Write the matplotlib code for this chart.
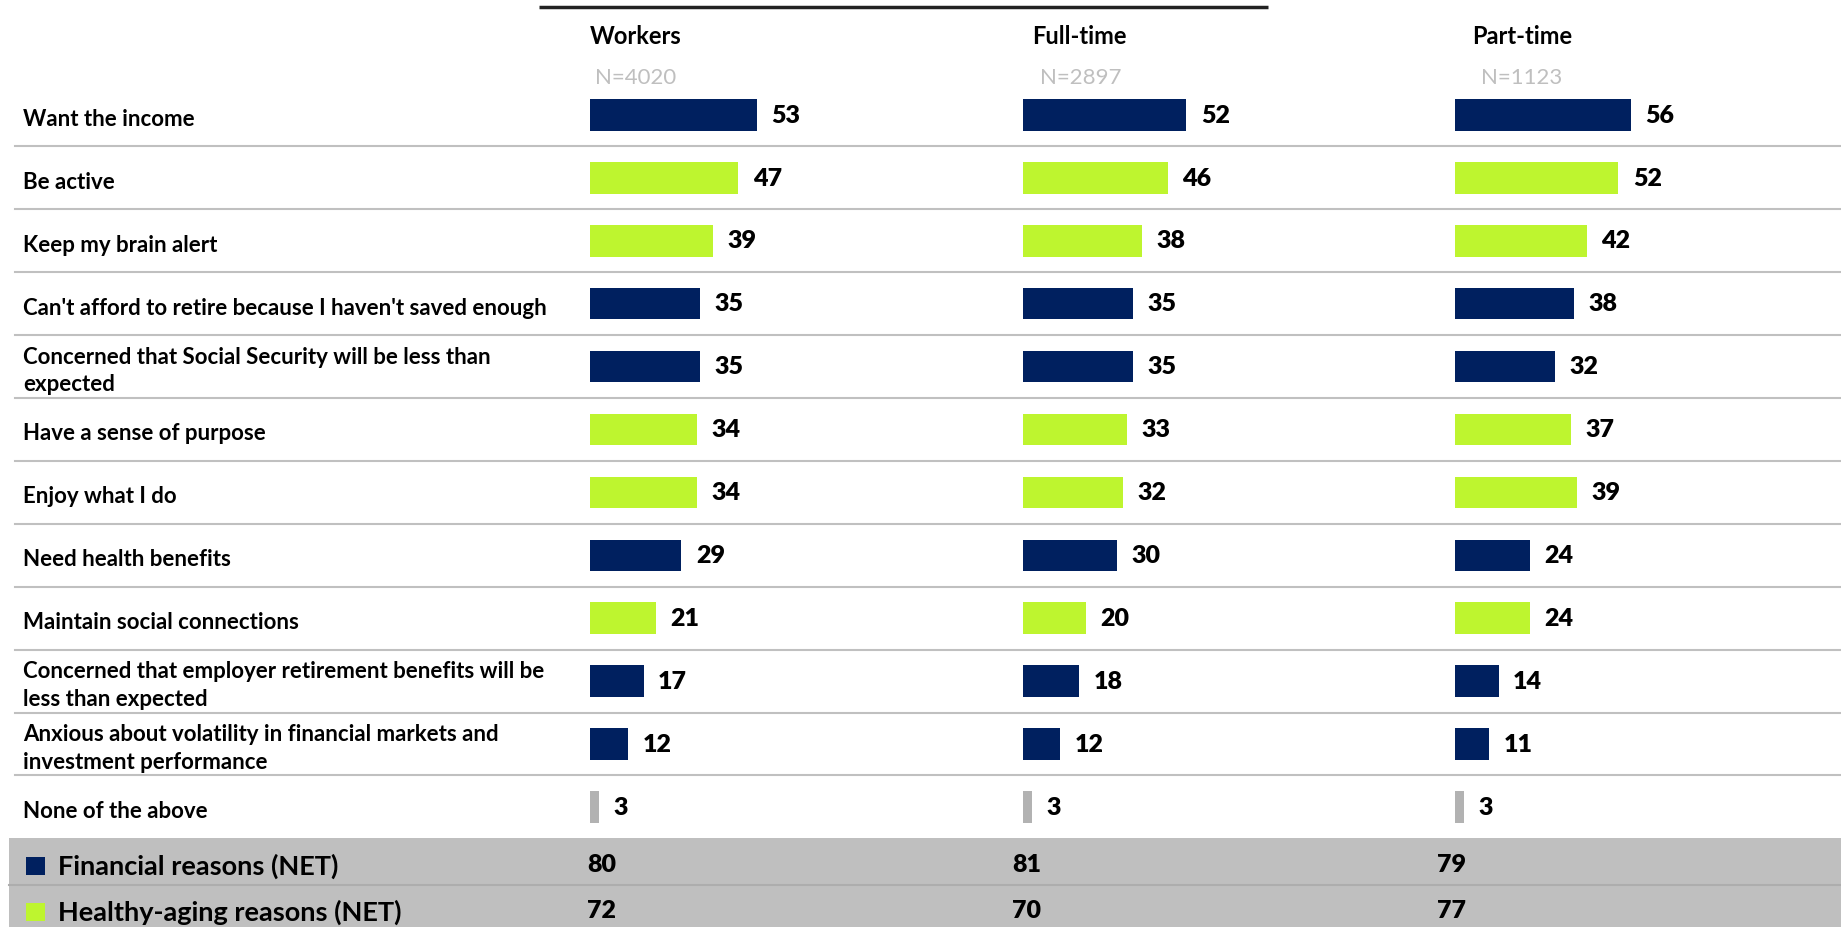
import matplotlib.pyplot as plt
from matplotlib.patches import Rectangle

plt.rcParams['font.family'] = ['Liberation Sans Narrow', 'Lato', 'DejaVu Sans']

# --- data ---
reasons = [
    "Want the income",
    "Be active",
    "Keep my brain alert",
    "Can't afford to retire because I haven't saved enough",
    "Concerned that Social Security will be less than\nexpected",
    "Have a sense of purpose",
    "Enjoy what I do",
    "Need health benefits",
    "Maintain social connections",
    "Concerned that employer retirement benefits will be\nless than expected",
    "Anxious about volatility in financial markets and\ninvestment performance",
    "None of the above",
]
kinds = ["fin", "health", "health", "fin", "fin", "health", "health",
         "fin", "health", "fin", "fin", "none"]
workers = [53, 47, 39, 35, 35, 34, 34, 29, 21, 17, 12, 3]
full_time = [52, 46, 38, 35, 35, 33, 32, 30, 20, 18, 12, 3]
part_time = [56, 52, 42, 38, 32, 37, 39, 24, 24, 14, 11, 3]

groups = ["Workers", "Full-time", "Part-time"]
group_n = ["N=4020", "N=2897", "N=1123"]

net_labels = ["Financial reasons (NET)", "Healthy-aging reasons (NET)"]
net_kinds = ["fin", "health"]
net_workers = [80, 72]
net_full_time = [81, 70]
net_part_time = [79, 77]

# --- style ---
NAVY = "#00205F"
LIME = "#BEF52F"
BAR_GREY = "#B2B2B2"
BAND = "#BFBFBF"
SEP = "#C0C0C0"
colors = {"fin": NAVY, "health": LIME, "none": BAR_GREY}

W, H = 1841, 927
ROW0, STEP = 115.0, 62.9          # pixel centre of first row, row pitch
PX_PER_UNIT = 3.15


def py(px):
    """pixel y (from top) -> row units"""
    return (px - ROW0) / STEP


y_top, y_bot = py(0), py(H)

fig = plt.figure(figsize=(W / 100, H / 100), dpi=100)

bg = fig.add_axes([0, 0, 1, 1])
bg.set_xlim(0, W)
bg.set_ylim(y_bot, y_top)
bg.axis('off')

# cut-off title underline
bg.plot([539, 1268], [py(7), py(7)], color="#222222", lw=2.5, solid_capstyle='butt')

n = len(reasons)
for i in range(n - 1):
    bg.plot([15, W], [i + 0.5, i + 0.5], color=SEP, lw=1.5)
for i, lab in enumerate(reasons):
    bg.text(23, i + 0.07, lab, fontsize=16, fontweight='bold', va='center',
            ha='left', linespacing=1.4)

# grey summary band
bg.add_patch(Rectangle((9, n - 0.5), W, y_bot - (n - 0.5), color=BAND, lw=0))
bg.plot([9, W], [py(885), py(885)], color="#ADADAD", lw=1.5)
net_y = [py(866), py(912)]
for k, (lab, kind) in enumerate(zip(net_labels, net_kinds)):
    bg.add_patch(Rectangle((26, net_y[k] - 0.15), 19, 0.3, color=colors[kind], lw=0))
    bg.text(58, net_y[k], lab, fontsize=19.5, fontweight='bold', va='center', ha='left')

col_left = [590, 1022.6, 1454.6]
head_x = [590, 1032, 1472]
n_x = [595, 1040, 1481]
net_x = [587, 1012, 1437]
series = [workers, full_time, part_time]
nets = [net_workers, net_full_time, net_part_time]

for c in range(3):
    ax = fig.add_axes([col_left[c] / W, 0, 100 * PX_PER_UNIT / W, 1])
    ax.set_xlim(0, 100)
    ax.set_ylim(y_bot, y_top)
    ax.axis('off')
    ax.patch.set_visible(False)
    rows = list(range(n))
    ax.barh(rows, series[c], height=0.5, color=[colors[k] for k in kinds])
    for i, v in enumerate(series[c]):
        ax.text(v + 4.6, i + 0.01, str(v), fontsize=18, fontweight='heavy',
                va='center', ha='left')

    bg.text(head_x[c], py(36), groups[c], fontsize=17, fontweight='bold',
            va='center', ha='left')
    bg.text(n_x[c], py(78), group_n[c], fontsize=16, color="#BFBFBF",
            va='center', ha='left')
    for k, v in enumerate(nets[c]):
        bg.text(net_x[c], net_y[k] - 0.02, str(v), fontsize=18, fontweight='heavy',
                va='center', ha='left')

fig.savefig("out.png", dpi=100)
